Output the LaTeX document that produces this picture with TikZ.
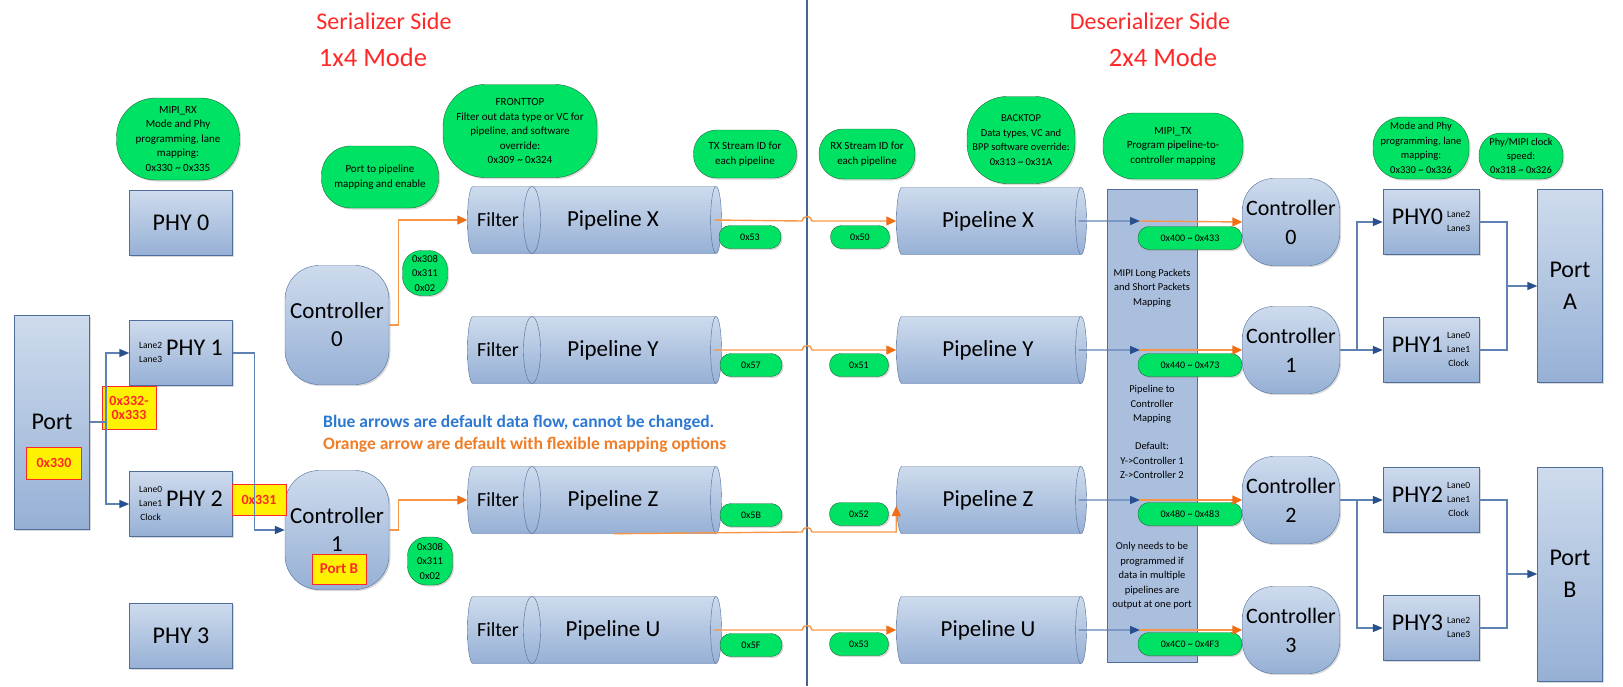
\documentclass[tikz,border=0pt]{standalone}
\usepackage{fontspec}
\setmainfont{Carlito}
\usepackage{tikz}
\usetikzlibrary{
  arrows.meta,
  positioning,
  shapes.geometric,
  shadows,
  calc
}
\definecolor{boxtop}{RGB}{206,219,237}
\definecolor{boxbot}{RGB}{150,176,213}
\definecolor{boxline}{RGB}{80,110,155}
\definecolor{bubblegreen}{RGB}{0,226,100}
\definecolor{bubbleline}{RGB}{35,105,60}
\definecolor{wireblue}{RGB}{95,130,180}
\definecolor{tipblue}{RGB}{40,80,140}
\definecolor{wireorange}{RGB}{247,150,70}
\definecolor{tiporange}{RGB}{240,110,20}
\definecolor{titlered}{RGB}{255,40,40}
\definecolor{noteblue}{RGB}{45,120,210}
\definecolor{noteorange}{RGB}{240,125,40}
\definecolor{divline}{RGB}{70,100,145}
\definecolor{mapfill}{RGB}{170,191,222}
\newcommand{\fsz}[2]{\fontsize{#1}{#2}\selectfont}
\newcommand{\lanes}[1]{{\fsz{9.5}{14}\begin{tabular}{@{}c@{}}#1\end{tabular}}}
\newcommand{\tld}{\textasciitilde{}}

\begin{document}
\begin{tikzpicture}[x=1pt,y=-1pt,
  shade/.style  ={drop shadow={shadow xshift=1.5pt,shadow yshift=-1.5pt,opacity=.3}},
  phybox/.style ={draw=boxline,top color=boxtop,bottom color=boxbot,minimum width=103pt,
                  minimum height=65pt,inner sep=1pt,align=center,font=\fsz{24}{28},shade},
  portbox/.style={phybox,minimum width=75pt,font=\fsz{24}{32}},
  ctrlbox/.style={phybox,rounded corners=34pt,minimum width=104pt,minimum height=119pt,
                  font=\fsz{23}{28}},
  dctrl/.style  ={phybox,rounded corners=31pt,minimum width=97pt,minimum height=87pt,
                  font=\fsz{22}{29}},
  pipe/.style   ={draw=boxline,top color=boxtop,bottom color=boxbot,cylinder,aspect=.5,
                  minimum height=254pt,minimum width=67pt,inner sep=1pt,font=\fsz{23}{28}},
  note/.style   ={draw=bubbleline,fill=bubblegreen,rounded corners=#1,align=center,
                  inner sep=1pt,font=\fsz{11}{14.5},shade},
  note/.default=24pt,
  pill/.style   ={note=11pt,minimum height=23pt,font=\fsz{10}{12}},
  hexbox/.style ={draw=titlered,fill=yellow,text=titlered,line width=1pt,align=center,
                  inner sep=1pt,font=\bfseries\fsz{14}{14}},
  title/.style  ={text=titlered,font=\fsz{24}{28}},
  wire/.style   ={wireblue,line width=1.4pt},
  flow/.style   ={wire,-{Triangle[length=10pt,width=8pt,color=tipblue]}},
  remap/.style  ={wireorange,line width=1.4pt,-{Triangle[length=10pt,width=9pt,color=tiporange]}},
]
\useasboundingbox (0,0) rectangle (1623,686);

\node[title] (sertitle) at (384,21)  {Serializer Side};
\node[title,font=\fsz{26.5}{28}] (sermode)  at (373,57)  {1x4 Mode};
\node[title] (destitle) at (1150,21) {Deserializer Side};
\node[title,font=\fsz{26.5}{28}] (desmode)  at (1163,57) {2x4 Mode};

\draw[divline,line width=1.6pt] (807,0) -- (807,686);
\node[draw=boxline,fill=mapfill,minimum width=90pt,minimum height=473pt] (maprect) at (1152,425.5) {};

% serializer side
\node[note=39pt,minimum width=123pt,minimum height=82pt] (rxnote) at (178,139)
  {MIPI\_RX\\Mode and Phy\\programming, lane\\mapping:\\0x330 \tld{} 0x335};
\node[note=29pt,minimum width=117pt,minimum height=62pt] (linknote) at (380,177)
  {Port to pipeline\\mapping and enable};
\node[note=42pt,minimum width=154pt,minimum height=93pt] (frontnote) at (520,131)
  {FRONTTOP\\Filter out data type or VC for\\pipeline, and software\\override:\\0x309 \tld{} 0x324};
\node[note=23pt,minimum width=103pt,minimum height=48pt] (txnote) at (745,154)
  {TX Stream ID for\\each pipeline};
\node[note=19pt,minimum width=45pt,minimum height=45pt,font=\fsz{10.5}{14.5}] (dtnoteA) at (425,273)
  {0x308\\0x311\\0x02};
\node[note=19pt,minimum width=45pt,minimum height=48pt,font=\fsz{10.5}{14.5}] (dtnoteB) at (430,561)
  {0x308\\0x311\\0x02};

\node[portbox,minimum height=214pt] (port) at (52,422) {Port};
\node[hexbox,minimum width=55pt,minimum height=32pt] (tag330) at (54,463) {0x330};
\node[phybox] (phy0) at (181,223) {PHY 0};
\node[phybox] (phy1) at (181,353) {\lanes{Lane2\\Lane3}\,PHY 1};
\node[phybox] (phy2) at (181,504) {\lanes{Lane0\\Lane1\\Clock}\,PHY 2};
\node[phybox] (phy3) at (181,636) {PHY 3};
\node[ctrlbox] (ctrl0) at (337,325) {Controller\\0};
\node[ctrlbox] (ctrl1) at (337,530) {Controller\\1};
\node[hexbox,minimum width=54pt,minimum height=30pt,font=\bfseries\fsz{15}{15}] (tagB) at (339,569) {Port B};

\node[pipe] (pX) at (591,220) {\hspace*{44pt}Pipeline X};
\node[pipe] (pY) at (591,350) {\hspace*{44pt}Pipeline Y};
\node[pipe] (pZ) at (591,500) {\hspace*{44pt}Pipeline Z};
\node[pipe] (pU) at (591,630) {\hspace*{44pt}Pipeline U};
\draw[boxline] (532,220) ellipse (8.5 and 33.5);
\draw[boxline] (532,350) ellipse (8.5 and 33.5);
\draw[boxline] (532,500) ellipse (8.5 and 33.5);
\draw[boxline] (532,630) ellipse (8.5 and 33.5);
\node[font=\fsz{20}{24}] (fX) at (498,220) {Filter};
\node[font=\fsz{20}{24}] (fY) at (498,350) {Filter};
\node[font=\fsz{20}{24}] (fZ) at (498,500) {Filter};
\node[font=\fsz{20}{24}] (fU) at (498,630) {Filter};

\node[pill,minimum width=62pt] (txX) at (750,237) {0x53};
\node[pill,minimum width=62pt] (txY) at (751,365) {0x57};
\node[pill,minimum width=62pt] (txZ) at (751,515) {0x5B};
\node[pill,minimum width=62pt] (txU) at (751,645) {0x5F};

\node[font=\bfseries\fsz{17.5}{20},text=noteblue,anchor=west,inner sep=0pt] (legblue) at (323,423)
  {Blue arrows are default data flow, cannot be changed.};
\node[font=\bfseries\fsz{17.5}{20},text=noteorange,anchor=west,inner sep=0pt] (legorange) at (323,445)
  {Orange arrow are default with flexible mapping options};

\node[hexbox,minimum width=54pt,minimum height=43pt] (tag332) at (129,408) {0x332-\\0x333};
\node[hexbox,minimum width=54pt,minimum height=31pt] (tag331) at (259,500) {0x331};

% deserializer side
\node[note=24pt,minimum width=96pt,minimum height=50pt] (rxsnote) at (867,154)
  {RX Stream ID for\\each pipeline};
\node[note=40pt,minimum width=108pt,minimum height=87pt,font=\fsz{10.5}{14.5}] (backnote) at (1021,140)
  {BACKTOP\\Data types, VC and\\BPP software override:\\0x313 \tld{} 0x31A};
\node[note=31pt,minimum width=140pt,minimum height=66pt] (txmapnote) at (1173,146)
  {MIPI\_TX\\Program pipeline-to-\\controller mapping};
\node[note=29pt,minimum width=96pt,minimum height=62pt,font=\fsz{10.5}{14.5}] (modenote) at (1421,148)
  {Mode and Phy\\programming, lane\\mapping:\\0x330 \tld{} 0x336};
\node[note=22pt,minimum width=84pt,minimum height=46pt,font=\fsz{10.5}{14}] (clknote) at (1521,156)
  {Phy/MIPI clock\\speed:\\0x318 \tld{} 0x326};

\node[pill,minimum width=59pt] (rxX) at (860,237) {0x50};
\node[pill,minimum width=59pt] (rxY) at (859,365) {0x51};
\node[pill,minimum width=59pt] (rxZ) at (859,514) {0x52};
\node[pill,minimum width=59pt] (rxU) at (859,644) {0x53};

\node[pipe,minimum height=190pt] (dX) at (988,221) {Pipeline X};
\node[pipe,minimum height=190pt] (dY) at (988,350) {Pipeline Y};
\node[pipe,minimum height=190pt] (dZ) at (988,500) {Pipeline Z};
\node[pipe,minimum height=190pt] (dU) at (988,630) {Pipeline U};

\node[font=\fsz{10.5}{14.3},align=center] (maptxtA) at (1152,288)
  {MIPI Long Packets\\and Short Packets\\Mapping};
\node[font=\fsz{10.5}{14.3},align=center] (maptxtB) at (1152,432)
  {Pipeline to\\Controller\\Mapping\\[14.3pt]Default:\\Y->Controller 1\\Z->Controller 2};
\node[font=\fsz{10.5}{14.5},align=center] (maptxtC) at (1152,576)
  {Only needs to be\\programmed if\\data in multiple\\pipelines are\\output at one port};

\node[pill,minimum width=104pt] (selnoteX) at (1190,238) {0x400 \tld{} 0x433};
\node[pill,minimum width=104pt] (selnoteY) at (1190,365) {0x440 \tld{} 0x473};
\node[pill,minimum width=104pt] (selnoteZ) at (1190,514) {0x480 \tld{} 0x483};
\node[pill,minimum width=104pt] (selnoteU) at (1190,644) {0x4C0 \tld{} 0x4F3};
\coordinate (selX) at (1140,221);
\coordinate (selY) at (1140,350);
\coordinate (selZ) at (1140,500);
\coordinate (selU) at (1140,630);

\node[dctrl] (dctrl0) at (1291,222) {Controller\\0};
\node[dctrl] (dctrl1) at (1291,350) {Controller\\1};
\node[dctrl] (dctrl2) at (1291,500) {Controller\\2};
\node[dctrl] (dctrl3) at (1291,630) {Controller\\3};

\node[phybox,minimum width=96pt] (dphy0) at (1431,222) {PHY0\,\lanes{Lane2\\Lane3}};
\node[phybox,minimum width=96pt] (dphy1) at (1431,350) {PHY1\,\lanes{Lane0\\Lane1\\Clock}};
\node[phybox,minimum width=96pt] (dphy2) at (1431,500) {PHY2\,\lanes{Lane0\\Lane1\\Clock}};
\node[phybox,minimum width=96pt] (dphy3) at (1431,628) {PHY3\,\lanes{Lane2\\Lane3}};
\node[portbox,minimum width=65pt,minimum height=193pt] (portA) at (1570,286) {Port\\A};
\node[portbox,minimum width=65pt,minimum height=214pt] (portB) at (1570,574) {Port\\B};

% fixed (blue) data flow
\coordinate (jP) at (106,422);
\draw[wire] (port.east) -- (jP);
\draw[flow] (jP) |- (phy1.west);
\draw[flow] (jP) |- (phy2.west);
\draw[flow] (phy1.east) -- ++(22,0) |- (ctrl1.west);

\draw[flow] ([xshift=-8pt]dX.east) -- (selX);
\draw[flow] ([xshift=-8pt]dY.east) -- (selY);
\draw[flow] ([xshift=-8pt]dZ.east) -- (selZ);
\draw[flow] ([xshift=-8pt]dU.east) -- (selU);

\coordinate (j1) at (1357,350);
\coordinate (j2) at (1357,500);
\draw[flow] (dctrl1.east) -- (dphy1.west);
\draw[flow] (j1) |- (dphy0.west);
\draw[flow] (dctrl2.east) -- (dphy2.west);
\draw[flow] (j2) |- (dphy3.west);

\coordinate (jA) at (1507,286);
\coordinate (jB) at (1507,574);
\draw[wire] (dphy0.east) -| (jA);
\draw[wire] (dphy1.east) -| (jA);
\draw[flow] (jA) -- (portA.west);
\draw[wire] (dphy2.east) -| (jB);
\draw[wire] (dphy3.east) -| (jB);
\draw[flow] (jB) -- (portB.west);

% flexible (orange) mapping
\draw[remap] (ctrl0.east) -- ++(9,0) |- (pX.west);
\draw[remap] (ctrl1.east) -- ++(9,0) |- (pZ.west);
\draw[remap] ([xshift=-8pt]pX.east) -- (802,221) .. controls (803,215) and (811,215) .. (812,221) -- (dX.west);
\draw[remap] ([xshift=-8pt]pY.east) -- (802,350) .. controls (803,344) and (811,344) .. (812,350) -- (dY.west);
\draw[remap] ([xshift=22pt]pZ.south) -- (802,532) .. controls (803,526) and (811,526) .. (812,532)
  -| ([yshift=-6pt]dZ.west);
\draw[remap] ([xshift=-8pt]pU.east) -- (802,630) .. controls (803,624) and (811,624) .. (812,630) -- (dU.west);
\draw[remap] (selX) -- (dctrl0.west);
\draw[remap] (selY) -- (dctrl1.west);
\draw[remap] (selZ) -- (dctrl2.west);
\draw[remap] (selU) -- (dctrl3.west);
\end{tikzpicture}
\end{document}
